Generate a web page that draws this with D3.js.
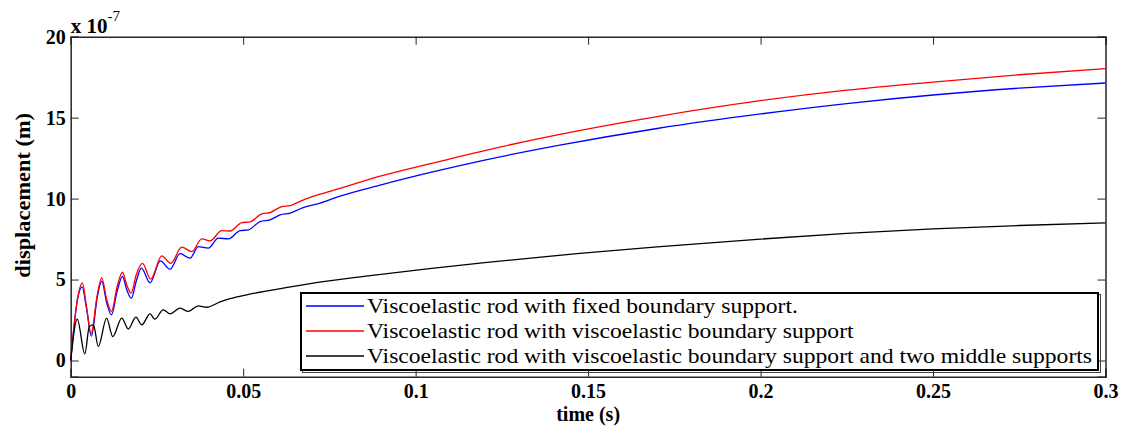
<!DOCTYPE html>
<html>
<head>
<meta charset="utf-8">
<script src="https://cdn.jsdelivr.net/npm/d3@7"></script>
<style>
  body { margin: 0; background: #fff; }
  svg { display: block; }
</style>
</head>
<body>
<svg id="chart" width="1124" height="426"></svg>
<script>
// values (displacement in units of 1e-7 m)
var redTime = [0, 0.002, 0.0034, 0.0046, 0.0059, 0.0077, 0.009, 0.0104, 0.0118, 0.0135, 0.015, 0.0162, 0.0175, 0.019, 0.0208, 0.0232, 0.0264, 0.029, 0.0322, 0.0351, 0.038, 0.0404, 0.0438, 0.0462, 0.0496, 0.052, 0.0554, 0.0578, 0.0612, 0.0636, 0.067, 0.0723, 0.0776, 0.09, 0.104, 0.12, 0.1418, 0.17, 0.2, 0.225, 0.25, 0.275, 0.3]
var redDisp = [0, 3.85, 4.8, 3.3, 1.65, 4.06, 5.1, 3.8, 3.03, 4.6, 5.45, 4.7, 4.16, 5.3, 6.0, 5.03, 6.46, 6.0, 7.0, 6.73, 7.51, 7.39, 8.02, 8.0, 8.52, 8.56, 9.06, 9.14, 9.51, 9.57, 9.88, 10.27, 10.6, 11.4, 12.15, 12.97, 13.97, 15.07, 16.05, 16.7, 17.2, 17.65, 18.03]

var blueTime = [0, 0.002, 0.0033, 0.0046, 0.006, 0.0077, 0.009, 0.0104, 0.0118, 0.0135, 0.015, 0.0162, 0.0176, 0.019, 0.0205, 0.023, 0.026, 0.0288, 0.0317, 0.0346, 0.037, 0.0399, 0.0428, 0.0457, 0.0491, 0.0515, 0.0549, 0.0578, 0.0607, 0.0636, 0.067, 0.0723, 0.0776, 0.09, 0.104, 0.12, 0.1418, 0.17, 0.2, 0.225, 0.25, 0.275, 0.3]
var blueDisp = [0, 3.8, 4.55, 3.2, 1.5, 3.9, 4.9, 3.6, 2.82, 4.3, 5.2, 4.4, 3.85, 4.9, 5.7, 4.8, 6.15, 5.64, 6.6, 6.32, 7.04, 6.94, 7.56, 7.51, 8.02, 8.07, 8.58, 8.69, 9.0, 9.1, 9.41, 9.72, 10.12, 10.85, 11.6, 12.38, 13.3, 14.33, 15.23, 15.87, 16.4, 16.82, 17.14]

var blackTime = [0, 0.0019, 0.0041, 0.0054, 0.0066, 0.008, 0.0104, 0.0122, 0.0148, 0.0167, 0.0189, 0.0206, 0.023, 0.0244, 0.0268, 0.0288, 0.0317, 0.0341, 0.037, 0.0394, 0.0433, 0.0462, 0.051, 0.0587, 0.0703, 0.085, 0.104, 0.12, 0.1476, 0.17, 0.2, 0.225, 0.25, 0.275, 0.3]
var blackDisp = [0, 2.55, 0.41, 2.1, 2.2, 0.86, 2.62, 1.48, 2.62, 1.94, 2.68, 2.2, 2.88, 2.55, 3.13, 2.88, 3.23, 3.03, 3.38, 3.29, 3.62, 3.82, 4.06, 4.36, 4.78, 5.2, 5.68, 6.05, 6.62, 7.02, 7.5, 7.85, 8.13, 8.34, 8.5]

var xTicks = [0, 0.05, 0.1, 0.15, 0.2, 0.25, 0.3]
var yTicks = [0, 5, 10, 15, 20]
var legendLabels = [
  "Viscoelastic rod with fixed boundary support.",
  "Viscoelastic rod with viscoelastic boundary support",
  "Viscoelastic rod with viscoelastic boundary support and two middle supports"
]
var seriesColors = ["#0000ff", "#ff0000", "#000000"]

var width = 1124, height = 426
var margin = { top: 36.7, right: 18.5, bottom: 49.3, left: 70.7 }
var serif = "'Liberation Serif', 'Times New Roman', Tinos, 'DejaVu Serif', serif"

var svg = d3.select("#chart")

var x = d3.scaleLinear().domain([0, 0.3]).range([margin.left, width - margin.right])
var y = d3.scaleLinear().domain([-1, 20]).range([height - margin.bottom, margin.top])

function pairs(ts, vs) {
  return ts.map(function (t, i) { return [t, vs[i]] })
}

var series = [
  pairs(blueTime, blueDisp),
  pairs(redTime, redDisp),
  pairs(blackTime, blackDisp)
]

var line = d3.line()
  .curve(d3.curveMonotoneX)
  .x(function (d) { return x(d[0]) })
  .y(function (d) { return y(d[1]) })

var axisColor = "#262626"
var fmt = function (d) { return String(+d.toFixed(2)) }

// bottom and left axes with inward ticks
var gx = svg.append("g")
  .attr("transform", "translate(0," + y(-1) + ")")
  .call(d3.axisBottom(x).tickValues(xTicks).tickSize(-8).tickPadding(7).tickFormat(fmt))
var gy = svg.append("g")
  .attr("transform", "translate(" + x(0) + ",0)")
  .call(d3.axisLeft(y).tickValues(yTicks).tickSize(-8).tickPadding(5))

// top and right, ticks only
var gt = svg.append("g")
  .attr("transform", "translate(0," + y(20) + ")")
  .call(d3.axisTop(x).tickValues(xTicks).tickSize(-8).tickFormat(""))
var gr = svg.append("g")
  .attr("transform", "translate(" + x(0.3) + ",0)")
  .call(d3.axisRight(y).tickValues(yTicks).tickSize(-8).tickFormat(""))

;[gx, gy, gt, gr].forEach(function (g) {
  g.attr("font-family", null)
  g.selectAll("path").attr("stroke", axisColor).attr("stroke-width", 1.5)
  g.selectAll("line").attr("stroke", axisColor).attr("stroke-width", 1)
})

;[gx, gy].forEach(function (g) {
  g.selectAll("text")
    .attr("fill", "#000")
    .style("font-family", serif)
    .style("font-size", "20px")
    .style("font-weight", "bold")
})

// curves
svg.append("g")
  .selectAll("path")
  .data(series)
  .join("path")
  .attr("d", line)
  .attr("fill", "none")
  .attr("stroke", function (d, i) { return seriesColors[i] })
  .attr("stroke-width", 1.3)

// axis titles
svg.append("text")
  .attr("transform", "translate(" + x(0.15) + ",421)")
  .attr("text-anchor", "middle")
  .style("font-family", serif)
  .style("font-size", "20px")
  .style("font-weight", "bold")
  .text("time (s)")

svg.append("text")
  .attr("transform", "translate(30," + y(10.2) + ") rotate(-90) scale(1.12,1)")
  .attr("text-anchor", "middle")
  .style("font-family", serif)
  .style("font-size", "20px")
  .style("font-weight", "bold")
  .text("displacement (m)")

// exponent label
var expo = svg.append("text")
  .attr("transform", "translate(" + margin.left + ",33)")
  .style("font-family", serif)
  .style("font-size", "21px")
  .style("font-weight", "bold")
expo.append("tspan").text("x 10")
expo.append("tspan").attr("dy", -12).style("font-size", "15px").style("font-weight", "normal").text("-7")

// legend
var lg = svg.append("g").attr("transform", "translate(301,293)")
lg.append("rect")
  .attr("x", 1.5).attr("y", 1.5)
  .attr("width", 798).attr("height", 78)
  .attr("fill", "none")
  .attr("stroke", "#444")
  .attr("stroke-width", 1)
lg.append("rect")
  .attr("width", 797).attr("height", 77)
  .attr("fill", "#fff")
  .attr("stroke", "#000")
  .attr("stroke-width", 2)

var rows = lg.selectAll("g.row")
  .data(legendLabels)
  .join("g")
  .attr("class", "row")
  .attr("transform", function (d, i) { return "translate(0," + (13 + i * 25) + ")" })

rows.append("line")
  .attr("x1", 5).attr("x2", 63)
  .attr("stroke", function (d, i) { return seriesColors[i] })
  .attr("stroke-width", 1.6)

rows.append("text")
  .attr("transform", "translate(66,7) scale(1.18,1)")
  .style("font-family", serif)
  .style("font-size", "20px")
  .text(function (d) { return d })
</script>
</body>
</html>
